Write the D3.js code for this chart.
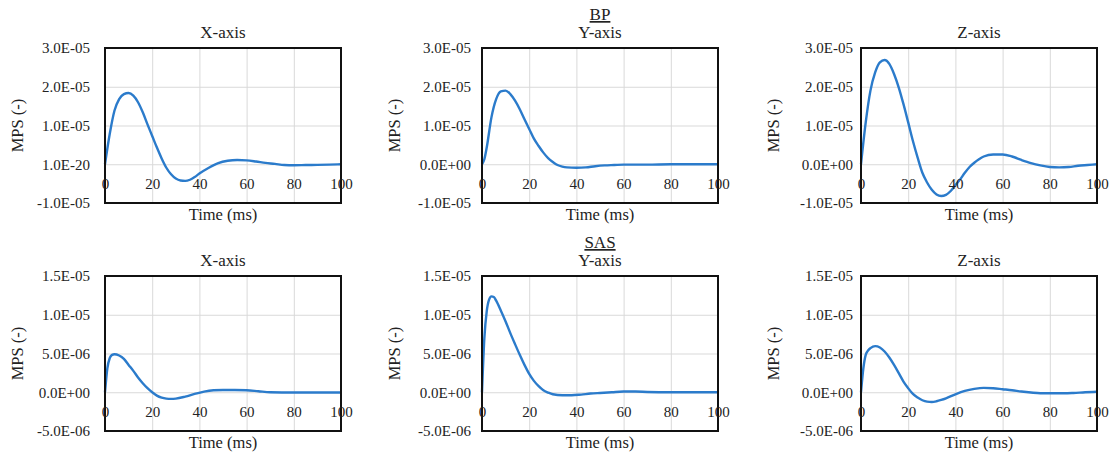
<!DOCTYPE html>
<html>
<head>
<meta charset="utf-8">
<script src="https://cdn.jsdelivr.net/npm/d3@7"></script>
<style>
  body { margin: 0; background: #fff; }
  svg text { font-family: "Liberation Serif", "DejaVu Serif", serif; }
  .grid line { stroke: #d9d9d9; stroke-width: 1; }
  .grid path { display: none; }
  .tick text { fill: #222; font-size: 15px; }
  .line { fill: none; stroke: #2b7bcb; stroke-width: 2.4; }
</style>
</head>
<body>
<div id="chart"></div>
<script>
// time axis, shared by all panels
const timeTicks = [0, 20, 40, 60, 80, 100];

// y ticks and their labels
const bpTicks = [-1e-5, 0, 1e-5, 2e-5, 3e-5];
const bpXTickLabels = ["-1.0E-05", "1.0E-20", "1.0E-05", "2.0E-05", "3.0E-05"];
const bpTickLabels = ["-1.0E-05", "0.0E+00", "1.0E-05", "2.0E-05", "3.0E-05"];
const sasTicks = [-5e-6, 0, 5e-6, 1e-5, 1.5e-5];
const sasTickLabels = ["-5.0E-06", "0.0E+00", "5.0E-06", "1.0E-05", "1.5E-05"];

// BP, X-axis
const bpXTime = [0, 2, 4, 6, 8, 10, 12, 14, 16, 18, 20, 22, 24, 26, 28, 30, 32, 34, 36, 38, 40, 44, 48, 52, 56, 60, 64, 68, 72, 76, 80, 85, 90, 95, 100];
const bpXValues = [0, 0.78, 1.38, 1.68, 1.81, 1.84, 1.77, 1.60, 1.34, 1.03, 0.73, 0.43, 0.15, -0.09, -0.26, -0.37, -0.42, -0.43, -0.40, -0.33, -0.24, -0.09, 0.03, 0.09, 0.11, 0.10, 0.07, 0.035, 0.01, -0.02, -0.025, -0.02, -0.015, -0.01, 0].map(v => v * 1e-5);

// BP, Y-axis
const bpYTime = [0, 1, 2, 4, 6, 8, 10, 12, 14, 16, 18, 20, 22, 24, 26, 28, 30, 32, 34, 36, 40, 44, 48, 52, 56, 60, 70, 80, 100];
const bpYValues = [0, 0.13, 0.43, 1.21, 1.68, 1.88, 1.90, 1.81, 1.64, 1.42, 1.16, 0.91, 0.66, 0.47, 0.30, 0.16, 0.06, -0.02, -0.06, -0.08, -0.09, -0.08, -0.05, -0.03, -0.02, -0.01, -0.01, 0, 0].map(v => v * 1e-5);

// BP, Z-axis
const bpZTime = [0, 2, 4, 6, 8, 10, 12, 14, 16, 18, 20, 22, 24, 26, 28, 30, 32, 34, 36, 38, 40, 42, 44, 46, 48, 50, 52, 56, 60, 64, 68, 72, 76, 80, 84, 88, 92, 96, 100];
const bpZValues = [0, 1.08, 1.90, 2.37, 2.63, 2.69, 2.59, 2.33, 1.98, 1.55, 1.08, 0.60, 0.17, -0.22, -0.47, -0.66, -0.78, -0.82, -0.79, -0.69, -0.54, -0.39, -0.22, -0.07, 0.04, 0.13, 0.20, 0.25, 0.25, 0.20, 0.11, 0.03, -0.03, -0.07, -0.08, -0.07, -0.04, -0.02, 0].map(v => v * 1e-5);

// SAS, X-axis
const sasXTime = [0, 1, 2, 3, 4, 6, 8, 10, 12, 14, 16, 18, 20, 22, 24, 26, 28, 30, 34, 38, 42, 46, 50, 55, 60, 65, 70, 80, 90, 100];
const sasXValues = [0, 3.1, 4.4, 4.83, 4.91, 4.74, 4.31, 3.53, 2.76, 1.90, 1.16, 0.52, 0, -0.43, -0.69, -0.82, -0.86, -0.82, -0.56, -0.22, 0.09, 0.26, 0.30, 0.30, 0.26, 0.13, 0, -0.04, -0.04, -0.04].map(v => v * 1e-6);

// SAS, Y-axis
const sasYTime = [0, 1, 2, 3, 4, 5, 6, 8, 10, 12, 14, 16, 18, 20, 22, 24, 26, 28, 30, 34, 38, 42, 46, 50, 55, 60, 65, 70, 80, 100];
const sasYValues = [0, 6.98, 10.43, 11.94, 12.37, 12.28, 11.81, 10.52, 9.14, 7.63, 6.21, 4.83, 3.53, 2.37, 1.47, 0.78, 0.26, -0.04, -0.26, -0.39, -0.39, -0.30, -0.17, -0.09, 0, 0.09, 0.09, 0.04, 0, 0].map(v => v * 1e-6);

// SAS, Z-axis
const sasZTime = [0, 1, 2, 3, 4, 6, 8, 10, 12, 14, 16, 18, 20, 22, 24, 26, 28, 30, 32, 34, 36, 40, 44, 48, 52, 56, 60, 64, 68, 72, 76, 80, 86, 90, 95, 100];
const sasZValues = [0, 3.1, 4.83, 5.39, 5.69, 5.95, 5.78, 5.26, 4.48, 3.53, 2.46, 1.38, 0.52, -0.22, -0.69, -1.03, -1.21, -1.25, -1.16, -0.99, -0.78, -0.26, 0.17, 0.43, 0.56, 0.52, 0.39, 0.26, 0.09, -0.04, -0.13, -0.13, -0.13, -0.09, 0, 0.06].map(v => v * 1e-6);

// layout
const W = 1112, H = 456;
const FONT = "'Liberation Serif', 'DejaVu Serif', serif";
const colLeft = [105, 482, 861];
const labelGap = [15, 11, 8];
const rowTop = [48, 276];
const plotW = 236, plotH = 155;

const panels = [
  { row: 0, col: 0, title: "X-axis", time: bpXTime, values: bpXValues, ticks: bpTicks, labels: bpXTickLabels },
  { row: 0, col: 1, title: "Y-axis", group: "BP", time: bpYTime, values: bpYValues, ticks: bpTicks, labels: bpTickLabels },
  { row: 0, col: 2, title: "Z-axis", time: bpZTime, values: bpZValues, ticks: bpTicks, labels: bpTickLabels },
  { row: 1, col: 0, title: "X-axis", time: sasXTime, values: sasXValues, ticks: sasTicks, labels: sasTickLabels },
  { row: 1, col: 1, title: "Y-axis", group: "SAS", time: sasYTime, values: sasYValues, ticks: sasTicks, labels: sasTickLabels },
  { row: 1, col: 2, title: "Z-axis", time: sasZTime, values: sasZValues, ticks: sasTicks, labels: sasTickLabels }
];

const svg = d3.select("#chart").append("svg")
  .attr("width", W)
  .attr("height", H)
  .attr("font-family", FONT);

panels.forEach(p => {
  const left = colLeft[p.col], top = rowTop[p.row];
  const g = svg.append("g").attr("transform", "translate(" + left + "," + top + ")");

  const x = d3.scaleLinear().domain([0, 100]).range([0, plotW]);
  const y = d3.scaleLinear().domain(d3.extent(p.ticks)).range([plotH, 0]);

  // horizontal gridlines + y labels
  g.append("g")
    .attr("class", "grid")
    .call(d3.axisLeft(y).tickValues(p.ticks).tickSize(-plotW).tickPadding(labelGap[p.col])
      .tickFormat((d, i) => p.labels[i]))
    .attr("font-family", FONT)
    .attr("font-size", 15);

  // vertical gridlines
  g.append("g")
    .attr("class", "grid")
    .attr("transform", "translate(0," + plotH + ")")
    .call(d3.axisBottom(x).tickValues(timeTicks).tickSize(-plotH).tickFormat(""));

  // the curve
  const line = d3.line()
    .x((d, i) => x(p.time[i]))
    .y(d => y(d))
    .curve(d3.curveMonotoneX);

  g.append("path")
    .datum(p.values)
    .attr("class", "line")
    .attr("d", line);

  // frame
  g.append("rect")
    .attr("width", plotW)
    .attr("height", plotH)
    .attr("fill", "none")
    .attr("stroke", "#111")
    .attr("stroke-width", 2);

  // time labels sit just under the zero line
  const xAxis = g.append("g")
    .attr("transform", "translate(0," + y(0) + ")")
    .call(d3.axisBottom(x).tickValues(timeTicks).tickSize(0).tickPadding(0))
    .attr("font-family", FONT)
    .attr("font-size", 15);
  xAxis.select(".domain").remove();
  xAxis.selectAll("text").attr("dy", null).attr("y", 25);

  // titles
  g.append("text")
    .attr("x", plotW / 2)
    .attr("y", -10)
    .attr("text-anchor", "middle")
    .attr("font-size", 17)
    .attr("fill", "#222")
    .text(p.title);

  if (p.group) {
    g.append("text")
      .attr("x", plotW / 2)
      .attr("y", -28)
      .attr("text-anchor", "middle")
      .attr("font-size", 17)
      .attr("fill", "#222")
      .attr("text-decoration", "underline")
      .text(p.group);
  }

  g.append("text")
    .attr("x", plotW / 2)
    .attr("y", plotH + 16.5)
    .attr("text-anchor", "middle")
    .attr("font-size", 16.5)
    .attr("fill", "#222")
    .text("Time (ms)");

  g.append("text")
    .attr("transform", "translate(-82," + plotH / 2 + ") rotate(-90)")
    .attr("text-anchor", "middle")
    .attr("font-size", 16.5)
    .attr("fill", "#222")
    .text("MPS (-)");
});
</script>
</body>
</html>
